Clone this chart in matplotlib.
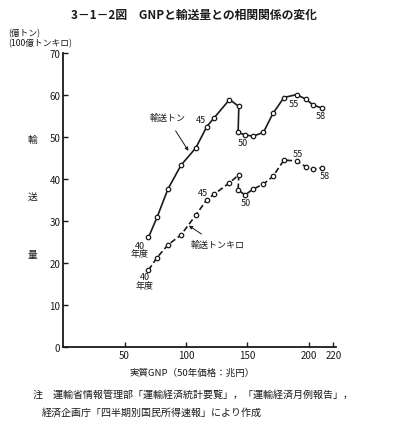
import matplotlib
matplotlib.use("Agg")
import matplotlib.pyplot as plt

plt.rcParams["font.family"] = ["Noto Sans CJK JP", "DejaVu Sans"]

# 実質GNP (50年価格, 兆円), 昭和40〜58年度
years = list(range(40, 59))
gnp = [69.5, 76.5, 85.3, 96.0, 108.0, 117.0, 123.0, 135.4, 143.0, 142.4,
       148.0, 154.7, 163.0, 170.7, 179.7, 190.0, 197.6, 203.5, 210.6]
# 輸送トン (億トン)
tons = [26.1, 30.9, 37.6, 43.3, 47.4, 52.5, 54.6, 58.9, 57.3, 51.1,
        50.5, 50.2, 51.1, 55.6, 59.4, 60.1, 59.0, 57.6, 56.9]
# 輸送トンキロ (100億トンキロ)
tonkm = [18.3, 21.3, 24.3, 26.7, 31.4, 35.1, 36.4, 39.1, 41.0, 37.4,
         36.2, 37.6, 38.8, 40.6, 44.5, 44.3, 42.9, 42.3, 42.7]

x_ticks = [50, 100, 150, 200, 220]
y_ticks = [0, 10, 20, 30, 40, 50, 60, 70]

ink = "#1a1a1a"

fig = plt.figure(figsize=(3.99, 4.31), dpi=100)
ax = fig.add_axes([0.158, 0.1926, 0.684, 0.6821])

ax.plot(gnp, tons, "-", color=ink, lw=1.2, marker="o", ms=3.2,
        mfc="white", mec=ink, mew=0.9)
ax.plot(gnp, tonkm, color=ink, lw=1.2, ls=(0, (3.5, 1.8)), marker="o",
        ms=3.2, mfc="white", mec=ink, mew=0.9)

ax.set_xlim(0, 222)
ax.set_ylim(0, 70)
ax.set_xticks(x_ticks)
ax.set_yticks(y_ticks)
ax.spines["top"].set_visible(False)
ax.spines["right"].set_visible(False)
for s in ("left", "bottom"):
    ax.spines[s].set_linewidth(1.3)
    ax.spines[s].set_color(ink)
ax.tick_params(direction="in", length=3.5, width=1, colors=ink,
               labelsize=7, pad=2)

# 曲線上のラベル
fs = 6.5
ax.text(111.8, 54.1, "45", fontsize=fs, color=ink, ha="center", va="center")
ax.text(146.5, 48.7, "50", fontsize=fs, color=ink, ha="center", va="center")
ax.text(187.6, 57.9, "55", fontsize=fs, color=ink, ha="center", va="center")
ax.text(209.9, 55.1, "58", fontsize=fs, color=ink, ha="center", va="center")
ax.text(114.0, 36.8, "45", fontsize=fs, color=ink, ha="center", va="center")
ax.text(148.4, 34.3, "50", fontsize=fs, color=ink, ha="center", va="center")
ax.text(190.8, 46.0, "55", fontsize=fs, color=ink, ha="center", va="center")
ax.text(212.8, 40.8, "58", fontsize=fs, color=ink, ha="center", va="center")
ax.text(62.5, 23.2, "40\n年度", fontsize=fs, color=ink, ha="center",
        va="center", linespacing=0.95)
ax.text(66.5, 15.7, "40\n年度", fontsize=fs, color=ink, ha="center",
        va="center", linespacing=0.95)

ax.annotate("輸送トン", xy=(102.0, 46.7), xytext=(84.7, 54.6), fontsize=6.5,
            color=ink, ha="center", va="center",
            arrowprops=dict(arrowstyle="-|>", color=ink, lw=0.7,
                            mutation_scale=5, shrinkA=5, shrinkB=0))
ax.annotate("輸送トンキロ", xy=(102.3, 28.9), xytext=(125.4, 24.4),
            fontsize=6.5, color=ink, ha="center", va="center",
            arrowprops=dict(arrowstyle="-|>", color=ink, lw=0.7,
                            mutation_scale=5, shrinkA=4, shrinkB=0))

# 縦軸ラベル
for ch, yv in zip("輸送量", [49.5, 36.0, 22.1]):
    ax.text(-25, yv, ch, fontsize=7, color=ink, ha="center", va="center")

fig.text(0.486, 0.965, "3－1－2図　GNPと輸送量との相関関係の変化",
         fontsize=8.5, fontweight="bold", color=ink, ha="center", va="center")
fig.text(0.02, 0.923, "(億トン)", fontsize=6.3, color=ink, ha="left",
         va="center")
fig.text(0.02, 0.899, "(100億トンキロ)", fontsize=6.3, color=ink, ha="left",
         va="center")
fig.text(0.482, 0.135, "実質GNP（50年価格：兆円）", fontsize=6.8, color=ink,
         ha="center", va="center")
fig.text(0.083, 0.083, "注　運輸省情報管理部「運輸経済統計要覧」，「運輸経済月例報告」，",
         fontsize=7.2, color=ink, ha="left", va="center")
fig.text(0.105, 0.042, "経済企画庁「四半期別国民所得速報」により作成",
         fontsize=7.2, color=ink, ha="left", va="center")

fig.savefig("out.png", dpi=100)
